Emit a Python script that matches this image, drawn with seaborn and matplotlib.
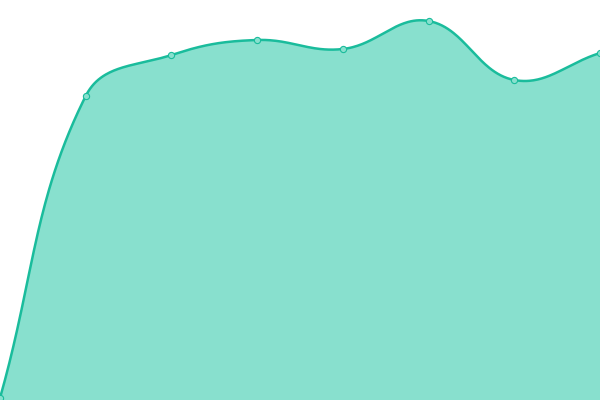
import numpy as np
import pandas as pd
import matplotlib
matplotlib.use("Agg")
import matplotlib.pyplot as plt
import seaborn as sns

categories = list(range(8))
values = [0, 302, 343, 358, 349, 377, 318, 345]

line_color = "#1ABC9C"
fill_color = "#88E0CE"

X_MAX = 7
Y_MIN, Y_MAX = -2, 398
W, H = 600, 400


def smooth_curve(xd, yd, tension=0.4, n=60):
    # spline in pixel-equivalent units so segment lengths match the screen
    sx = W / X_MAX
    sy = H / (Y_MAX - Y_MIN)
    x = np.asarray(xd, float) * sx
    y = (np.asarray(yd, float) - Y_MIN) * sy
    N = len(x)
    P = np.stack([x, y], axis=1)
    c_in = np.zeros_like(P)
    c_out = np.zeros_like(P)
    for i in range(N):
        a = P[i - 1] if i > 0 else P[i]
        b = P[i]
        c = P[i + 1] if i < N - 1 else P[i]
        d01 = np.hypot(*(b - a))
        d12 = np.hypot(*(c - b))
        tot = d01 + d12
        s01 = d01 / tot if tot else 0
        s12 = d12 / tot if tot else 0
        c_in[i] = b - tension * s01 * (c - a)
        c_out[i] = b + tension * s12 * (c - a)
    c_in[:, 0] = np.clip(c_in[:, 0], 0, W); c_in[:, 1] = np.clip(c_in[:, 1], 0, H)
    c_out[:, 0] = np.clip(c_out[:, 0], 0, W); c_out[:, 1] = np.clip(c_out[:, 1], 0, H)
    xs, ys = [], []
    t = np.linspace(0, 1, n, endpoint=False)[:, None]
    for i in range(N - 1):
        bz = (1 - t) ** 3 * P[i] + 3 * (1 - t) ** 2 * t * c_out[i] \
            + 3 * (1 - t) * t ** 2 * c_in[i + 1] + t ** 3 * P[i + 1]
        xs.append(bz[:, 0]); ys.append(bz[:, 1])
    xs.append([P[-1, 0]]); ys.append([P[-1, 1]])
    return np.concatenate(xs) / sx, np.concatenate(ys) / sy + Y_MIN


cx, cy = smooth_curve(categories, values)
smooth = pd.DataFrame({"x": cx, "y": cy})
pts = pd.DataFrame({"x": categories, "y": values})

sns.set_theme(style="white")
fig = plt.figure(figsize=(6, 4), dpi=100)
ax = fig.add_axes([0, 0, 1, 1])
ax.fill_between(smooth["x"], smooth["y"], Y_MIN, color=fill_color, linewidth=0, zorder=1)
sns.lineplot(data=smooth, x="x", y="y", ax=ax, color=line_color, linewidth=1.8,
             sort=False, zorder=2)
sns.scatterplot(data=pts, x="x", y="y", ax=ax, s=20, color=fill_color,
                edgecolor=line_color, linewidth=0.8, zorder=3)
ax.set_xlim(0, X_MAX)
ax.set_ylim(Y_MIN, Y_MAX)
ax.axis("off")
fig.savefig("out.png", dpi=100)
